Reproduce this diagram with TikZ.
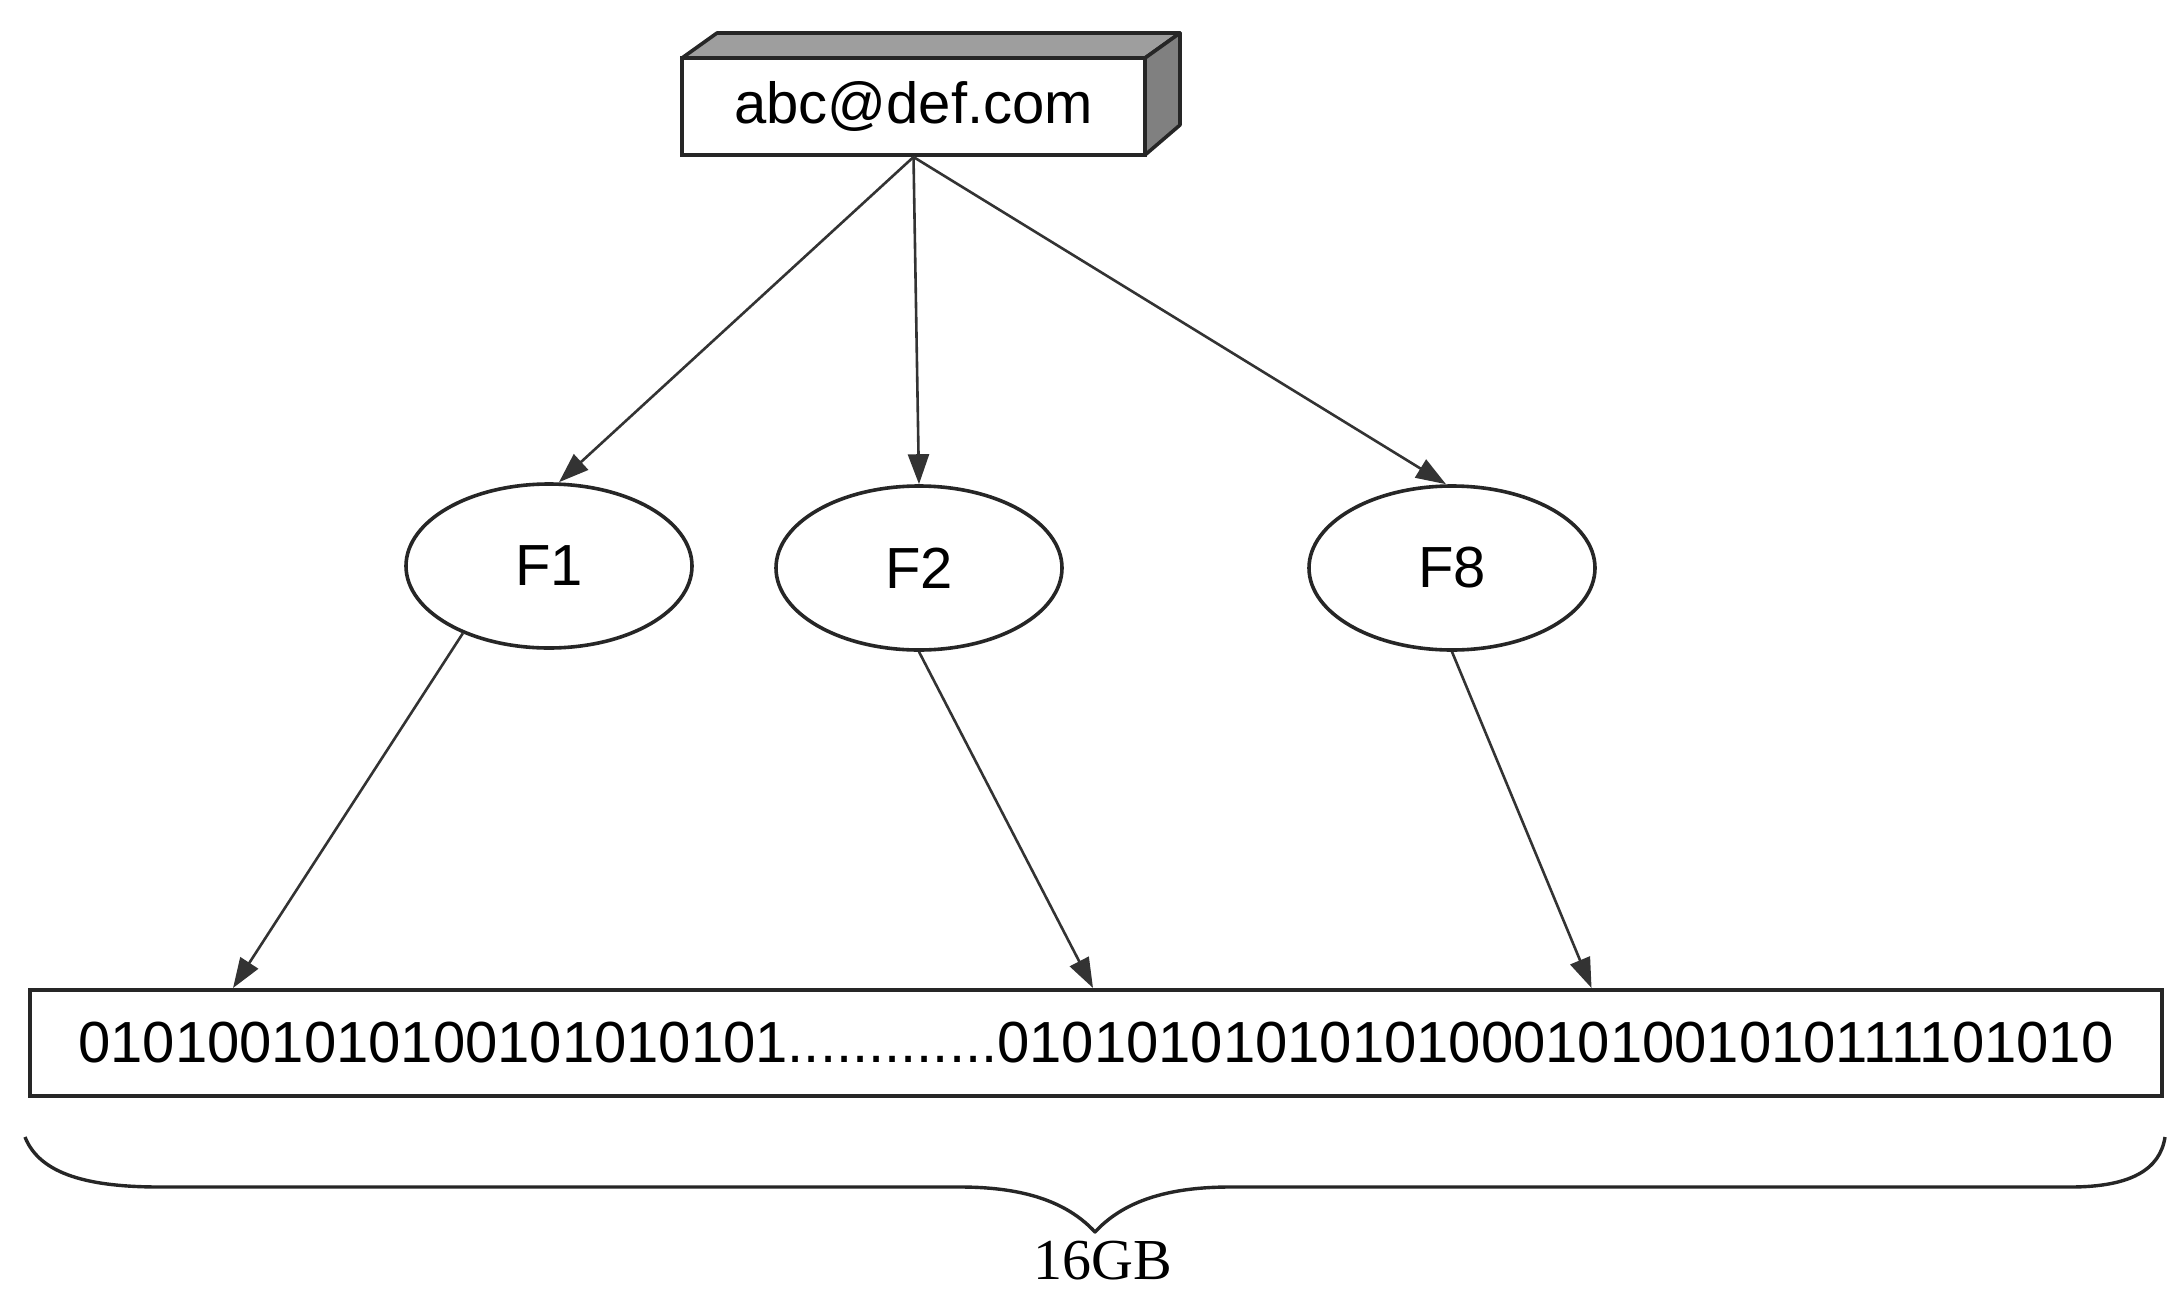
\documentclass[tikz,border=0pt]{standalone}
\usepackage{fontspec}
\setmainfont{Liberation Sans}
\newfontfamily\gbfont{Liberation Serif}
\usetikzlibrary{shapes.geometric,arrows.meta,calc}
\begin{document}
\begin{tikzpicture}[x=1pt,y=-1pt,
  lab/.style={font=\fontsize{58}{68}\selectfont},
  fnode/.style={draw=black!85,line width=3.6pt,ellipse,minimum width=286pt,minimum height=164pt,inner sep=0pt,lab},
  boxnode/.style={draw=black!85,line width=4pt,fill=white,inner sep=0pt,lab},
  face/.style={draw=black!85,line width=3.6pt,line join=round},
  conn/.style={draw=black!80,line width=2.6pt,-{Triangle[length=30pt,width=21pt]}},
]
\useasboundingbox[fill=white] (0,0) rectangle (2169,1296);

% 3D source box
\filldraw[face,fill=black!38] (682,58) -- (717,33) -- (1180,33) -- (1145,58) -- cycle;
\filldraw[face,fill=black!50] (1145,58) -- (1180,33) -- (1180,125) -- (1145,155) -- cycle;
\node[boxnode,minimum width=463pt,minimum height=97pt] (src) at (913.5,106.5) {abc@def.com};

% hash nodes
\node[fnode] (f1) at (549,566) {F1};
\node[fnode] (f2) at (919,568) {F2};
\node[fnode] (f8) at (1452,568) {F8};

% bit array
\node[boxnode,minimum width=2132pt,minimum height=106pt] (bits) at (1096,1043)
  {0101001010100101010101.............01010101010101000101001010111101010};

% connectors
\draw[conn] (src.south) -- ([xshift=10pt]f1.north);
\draw[conn] (src.south) -- (f2.north);
\draw[conn] (src.south) -- ([xshift=-6pt]f8.north);
\draw[conn] (f1.218) -- ($(bits.north west)!0.096!(bits.north east)$);
\draw[conn] (f2.south) -- ($(bits.north west)!0.4986!(bits.north east)$);
\draw[conn] (f8.south) -- ($(bits.north west)!0.732!(bits.north east)$);

% brace
\draw[black!85,line width=3.4pt,line join=round]
  (25,1137) .. controls (40,1175) and (90,1187) .. (160,1187)
  -- (960,1187) .. controls (1030,1187) and (1070,1205) .. (1095,1232)
  .. controls (1120,1205) and (1160,1187) .. (1230,1187)
  -- (2070,1187) .. controls (2130,1187) and (2160,1170) .. (2165,1137);
\node[font=\gbfont\fontsize{58}{66}\selectfont,inner sep=0pt] (gb) at (1103,1261) {16GB};
\end{tikzpicture}
\end{document}
